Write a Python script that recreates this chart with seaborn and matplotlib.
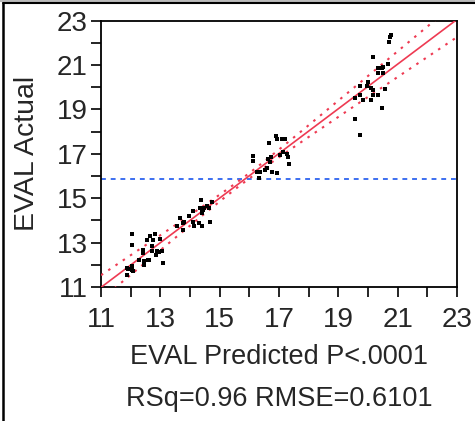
import numpy as np
import pandas as pd
import matplotlib
matplotlib.use("Agg")
import matplotlib.pyplot as plt
from matplotlib.lines import Line2D
import seaborn as sns

# EVAL predicted vs actual
predicted = [
    11.87, 11.87, 12.03, 12.07, 12.03, 12.03, 12.29, 12.40, 12.40, 12.45, 12.45, 12.54,
    12.65, 12.63, 12.71, 12.71, 12.82, 12.85, 12.90, 12.99, 13.04, 13.10, 12.76,
    11.90, 12.05, 12.42, 12.60, 12.95,
    13.55, 13.66, 13.75, 13.75, 13.98, 14.09, 14.11, 14.13, 14.37, 14.34, 14.39, 14.39,
    14.47, 14.56, 14.67, 14.73, 14.65, 14.45, 14.30, 13.80, 14.40,
    16.11, 16.13, 16.25, 16.34, 16.37, 16.53, 16.64, 16.67, 16.70, 16.72, 16.75, 16.90,
    16.92, 16.94, 17.03, 17.09, 17.20, 17.15, 17.26, 17.31, 17.35, 16.60,
    19.56, 19.56, 19.73, 19.73, 19.73, 19.82, 19.96, 20.01, 20.09, 20.09, 20.16, 20.16,
    20.18, 20.35, 20.35, 20.35, 20.46, 20.46, 20.49, 20.51, 20.57, 20.69, 20.72, 20.74, 20.76,
]
actual = [
    11.55, 11.85, 11.93, 11.70, 12.90, 13.38, 12.23, 12.53, 12.68, 12.00, 12.15, 13.10,
    13.30, 12.20, 12.60, 12.83, 13.40, 12.45, 12.60, 13.16, 12.60, 12.10, 13.13,
    11.80, 11.75, 12.55, 12.20, 12.58,
    13.73, 14.10, 13.58, 13.90, 14.18, 14.43, 13.95, 13.73, 14.93, 14.55, 14.33, 13.76,
    14.55, 14.63, 13.95, 14.85, 14.58, 14.45, 13.88, 13.95, 14.50,
    16.92, 16.70, 16.20, 15.90, 16.20, 16.28, 16.76, 17.50, 16.65, 16.88, 16.16, 17.80,
    17.65, 16.13, 16.95, 17.65, 17.65, 17.10, 17.00, 16.88, 16.55, 16.35,
    18.56, 19.50, 19.65, 20.06, 17.85, 19.43, 20.06, 20.25, 19.95, 19.43, 21.35, 19.87,
    19.65, 20.85, 20.65, 19.65, 20.85, 19.05, 20.93, 20.65, 19.90, 21.05, 22.05, 22.27, 22.35,
]

ticks = [11, 13, 15, 17, 19, 21, 23]
xlabel = "EVAL Predicted P<.0001"
stats_label = "RSq=0.96 RMSE=0.6101"
ylabel = "EVAL Actual"

# confidence curve shape (half width at the mean, growth per unit away from it)
band_center = 0.12
band_growth = 0.11

df = pd.DataFrame({"pred": predicted, "act": actual})

sns.set_style("ticks")
plt.rcParams["font.family"] = ["Liberation Sans", "DejaVu Sans"]

fig = plt.figure(figsize=(4.75, 4.21), dpi=100)
ax = fig.add_axes([101 / 475, 1 - 287 / 421, 356 / 475, 266.3 / 421])

# fit line and confidence curves
slope, icpt = np.polyfit(df["pred"], df["act"], 1)
xs = np.linspace(11, 23, 200)
fit = icpt + slope * xs
half = np.sqrt(band_center ** 2 + (band_growth * (xs - df["pred"].mean())) ** 2)
red = "#ee3a52"
ax.plot(xs, fit, color=red, lw=1.2, zorder=3)
ax.plot(xs, fit + half, color=red, lw=1.5, ls=(0, (1.2, 3.0)), zorder=3)
ax.plot(xs, fit - half, color=red, lw=1.5, ls=(0, (1.2, 3.0)), zorder=3)

# mean of actual
ax.axhline(df["act"].mean(), color="#3c6ff0", lw=1.4, ls=(0, (2.5, 2.5)), zorder=2)

sns.scatterplot(data=df, x="pred", y="act", ax=ax, marker="s", s=9,
                color="black", linewidth=0, zorder=4)

ax.set_xlim(11, 23)
ax.set_ylim(11, 23)
ax.set_xticks(ticks)
ax.set_yticks(ticks)
ax.set_xticks(np.arange(12, 23, 2), minor=True)
ax.set_yticks(np.arange(12, 23, 2), minor=True)
ax.tick_params(which="both", direction="out", length=7.5, width=1.2, color="black",
               labelsize=20)
ax.tick_params(axis="x", pad=7)
ax.tick_params(axis="y", pad=2)
for s in ax.spines.values():
    s.set_linewidth(1.3)
    s.set_color("black")

ax.set_xlabel(xlabel + "\n" + stats_label, fontsize=19.5, linespacing=1.78, labelpad=8)
ax.set_ylabel(ylabel, fontsize=20.5, labelpad=12)

# panel frame
fig.add_artist(Line2D([0, 1], [1 - 0.5 / 421] * 2, color="#bbbbbb", lw=1.5))
fig.add_artist(Line2D([3 / 475, 1], [1 - 3 / 421] * 2, color="black", lw=1.5))
fig.add_artist(Line2D([3 / 475] * 2, [0, 1 - 3 / 421], color="black", lw=1.8))

fig.savefig("out.png", dpi=100)
